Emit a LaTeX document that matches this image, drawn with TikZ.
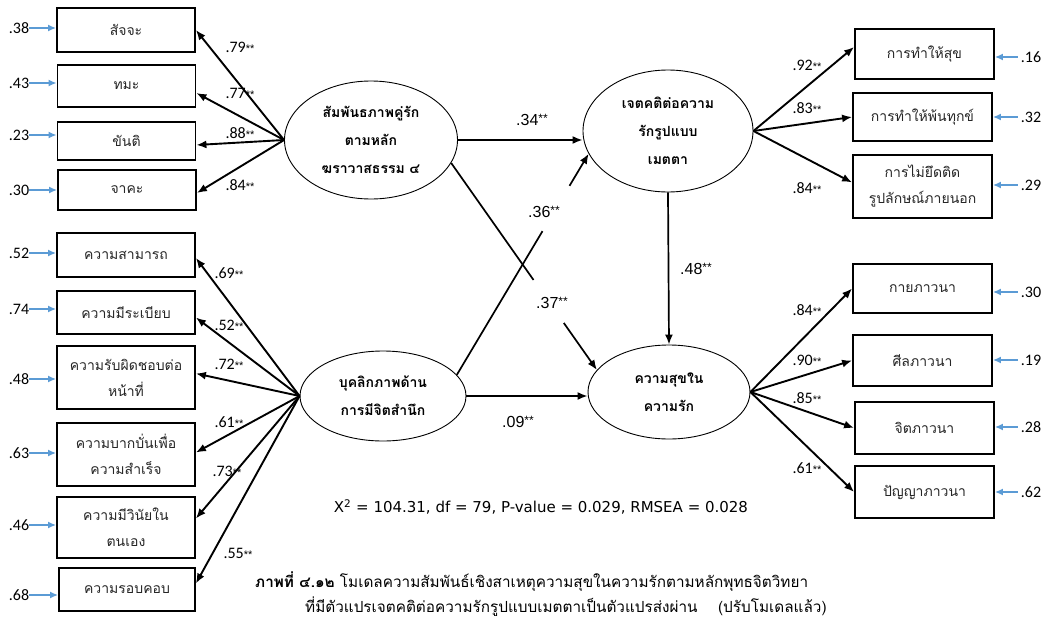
\documentclass[tikz,border=0pt]{standalone}
\usepackage{fontspec}
\setmainfont{Carlito}
\newfontfamily\thai[Script=Thai]{Loma}
\newfontfamily\dejavu{DejaVu Sans}
\newfontfamily\libsans{Liberation Sans}
\usetikzlibrary{arrows.meta,shapes.geometric,calc}
\definecolor{errblue}{RGB}{91,155,213}
\tikzset{
  obs/.style={draw, line width=1.8pt, rectangle, minimum width=138pt, align=center,
    font=\thai\fontsize{14}{26}\selectfont, text=black!85, inner sep=0pt},
  lat/.style={draw, line width=0.9pt, ellipse, inner sep=0pt, align=center,
    font=\thai\bfseries\fontsize{14}{28}\selectfont},
  load/.style={-{Latex[length=10pt,width=8pt]}, line width=1.9pt},
  pth/.style={-{Latex[length=10pt,width=8pt]}, line width=1.7pt},
  pline/.style={line width=1.7pt},
  earr/.style={-{Latex[length=8pt,width=7pt]}, line width=1.6pt, errblue},
  num/.style={font=\fontsize{16}{16}\selectfont, inner sep=0pt},
  pnum/.style={font=\libsans\fontsize{16}{16}\selectfont, inner sep=0pt},
}
\newcommand\ldn[1]{#1{\libsans\fontsize{11}{11}\selectfont **}}
\newcommand\pcn[1]{#1\raisebox{3pt}{\fontsize{12}{12}\selectfont **}}
\begin{document}
\begin{tikzpicture}[x=1pt,y=-1pt]
\useasboundingbox[fill=white] (0,0) rectangle (1045,621);
% left observed (E1)
\node[obs, minimum height=44pt] (L1) at (126,30) {สัจจะ};
\node[obs, minimum height=42pt] (L2) at (126.5,86) {ทมะ};
\node[obs, minimum height=38pt] (L3) at (126.5,141) {ขันติ};
\node[obs, minimum height=40pt] (L4) at (127,190) {จาคะ};
% left observed (E2)
\node[obs, minimum height=44pt] (L5) at (126,255) {ความสามารถ};
\node[obs, minimum height=43pt] (L6) at (126,312.5) {ความมีระเบียบ};
\node[obs, minimum height=63pt] (L7) at (126,377.5) {ความรับผิดชอบต่อ\\หน้าที่};
\node[obs, minimum height=63pt] (L8) at (126,454.5) {ความบากบั่นเพื่อ\\ความสำเร็จ};
\node[obs, minimum height=61pt] (L9) at (126,527.5) {ความมีวินัยใน\\ตนเอง};
\node[obs, minimum height=43pt, minimum width=136pt] (L10) at (127,589.5) {ความรอบคอบ};
% right observed
\node[obs, minimum width=139pt, minimum height=50pt] (R1) at (924.5,54) {การทำให้สุข};
\node[obs, minimum width=139pt, minimum height=48pt] (R2) at (922.5,117) {การทำให้พ้นทุกข์};
\node[obs, minimum width=139pt, minimum height=63pt] (R3) at (922.5,186.5) {การไม่ยึดติด\\รูปลักษณ์ภายนอก};
\node[obs, minimum width=139pt, minimum height=49pt] (R4) at (922.5,288.5) {กายภาวนา};
\node[obs, minimum width=139pt, minimum height=51pt] (R5) at (922.5,360.5) {ศีลภาวนา};
\node[obs, minimum width=139pt, minimum height=52pt] (R6) at (924.5,428) {จิตภาวนา};
\node[obs, minimum width=139pt, minimum height=52pt] (R7) at (924.5,492) {ปัญญาภาวนา};
% latent
\node[lat, minimum width=173pt, minimum height=118pt] (E1) at (371,140) {สัมพันธภาพคู่รัก\\ตามหลัก\\ฆราวาสธรรม ๔};
\node[lat, minimum width=166pt, minimum height=90pt] (E2) at (383,396) {บุคลิกภาพด้าน\\การมีจิตสำนึก};
\node[lat, minimum width=170pt, minimum height=122pt] (E3) at (668,131) {เจตคติต่อความ\\รักรูปแบบ\\เมตตา};
\node[lat, minimum width=162pt, minimum height=94pt] (E4) at (669,392) {ความสุขใน\\ความรัก};
% loadings E1
\draw[load] (E1.west) -- (L1.east);
\draw[load] (E1.west) -- ([yshift=-7pt]L2.east);
\draw[load] (E1.west) -- ([yshift=-4pt]L3.east);
\draw[load] (E1.west) -- ([yshift=-3pt]L4.east);
% loadings E2
\draw[load] (E2.west) -- ([yshift=-3pt]L5.east);
\draw[load] (E2.west) -- ([yshift=-5pt]L6.east);
\draw[load] (E2.west) -- ([yshift=4pt]L7.east);
\draw[load] (E2.west) -- ([yshift=2pt]L8.east);
\draw[load] (E2.west) -- ([yshift=9pt]L9.east);
\draw[load] (E2.west) -- ([yshift=6pt]L10.east);
% loadings E3, E4
\draw[load] (E3.east) -- ([yshift=7pt]R1.west);
\draw[load] (E3.east) -- (R2.west);
\draw[load] (E3.east) -- ([yshift=4pt]R3.west);
\draw[load] (E4.east) -- (R4.west);
\draw[load] (E4.east) -- (R5.west);
\draw[load] (E4.east) -- (R6.west);
\draw[load] (E4.east) -- (R7.west);
% structural paths
\draw[pth] (E1.east) -- (E1.east -| E3.west);
\draw[pth] (E2.east) -- (E2.east -| E4.west);
\draw[pth] (E3.south) -- (E4.north);
\draw[pline] (E1.-16) -- ($(E1.-16)!0.565!(E4.163)$);
\draw[pth] ($(E1.-16)!0.773!(E4.163)$) -- (E4.163);
\draw[pline] (E2.16) -- ($(E2.16)!0.65!(E3.196)$);
\draw[pth] ($(E2.16)!0.855!(E3.196)$) -- (E3.196);
% path labels
\node[pnum] (p1) at (532,120) {\pcn{.34}};
\node[pnum] (p2) at (544,212) {\pcn{.36}};
\node[pnum] (p3) at (552,303) {\pcn{.37}};
\node[pnum] (p4) at (518,422) {\pcn{.09}};
\node[pnum] (p5) at (696,269) {\pcn{.48}};
% loading labels
\node[num] (a1) at (240,47) {\ldn{.79}};
\node[num] (a2) at (240,93) {\ldn{.77}};
\node[num] (a3) at (240,133) {\ldn{.88}};
\node[num] (a4) at (240,185) {\ldn{.84}};
\node[num] (b1) at (229,273) {\ldn{.69}};
\node[num] (b2) at (229,325) {\ldn{.52}};
\node[num] (b3) at (229,364) {\ldn{.72}};
\node[num] (b4) at (229,422) {\ldn{.61}};
\node[num] (b5) at (227,471) {\ldn{.73}};
\node[num] (b6) at (238,553) {\ldn{.55}};
\node[num] (c1) at (807,65) {\ldn{.92}};
\node[num] (c2) at (807,108) {\ldn{.83}};
\node[num] (c3) at (807,188) {\ldn{.84}};
\node[num] (d1) at (807,310) {\ldn{.84}};
\node[num] (d2) at (807,360) {\ldn{.90}};
\node[num] (d3) at (807,398) {\ldn{.85}};
\node[num] (d4) at (807,468) {\ldn{.61}};
% error terms left
\node[num] (eL1) at (19,28) {.38};
\node[num] (eL2) at (19,83) {.43};
\node[num] (eL3) at (19,135) {.23};
\node[num] (eL4) at (19,190) {.30};
\node[num] (eL5) at (19,253) {.52};
\node[num] (eL6) at (19,309) {.74};
\node[num] (eL7) at (19,379) {.48};
\node[num] (eL8) at (19,453) {.63};
\node[num] (eL9) at (19,525) {.46};
\node[num] (eL10) at (19,595) {.68};
\foreach \i in {1,...,10} {\draw[earr] (eL\i.east) -- (eL\i.east -| L\i.west);}
% error terms right
\node[num] (eR1) at (1031,57) {.16};
\node[num] (eR2) at (1031,117) {.32};
\node[num] (eR3) at (1031,185) {.29};
\node[num] (eR4) at (1031,292) {.30};
\node[num] (eR5) at (1031,360) {.19};
\node[num] (eR6) at (1031,427) {.28};
\node[num] (eR7) at (1031,492) {.62};
\foreach \i in {1,...,7} {\draw[earr] ([xshift=-3pt]eR\i.west) -- (eR\i.west -| R\i.east);}
% fit and caption
\node[font=\dejavu\fontsize{15}{15}\selectfont, inner sep=0pt] (fit) at (541,507) {X\textsuperscript{2} = 104.31, df = 79, P-value = 0.029, RMSEA = 0.028};
\node[anchor=west, inner sep=0pt, font=\thai\fontsize{15.3}{15.3}\selectfont] (cap1) at (255,582) {\textbf{ภาพที่ ๔.๑๒} โมเดลความสัมพันธ์เชิงสาเหตุความสุขในความรักตามหลักพุทธจิตวิทยา};
\node[anchor=west, inner sep=0pt, font=\thai\fontsize{15.3}{15.3}\selectfont] (cap2) at (305,607) {ที่มีตัวแปรเจตคติต่อความรักรูปแบบเมตตาเป็นตัวแปรส่งผ่าน\quad\ (ปรับโมเดลแล้ว)};
\end{tikzpicture}
\end{document}
